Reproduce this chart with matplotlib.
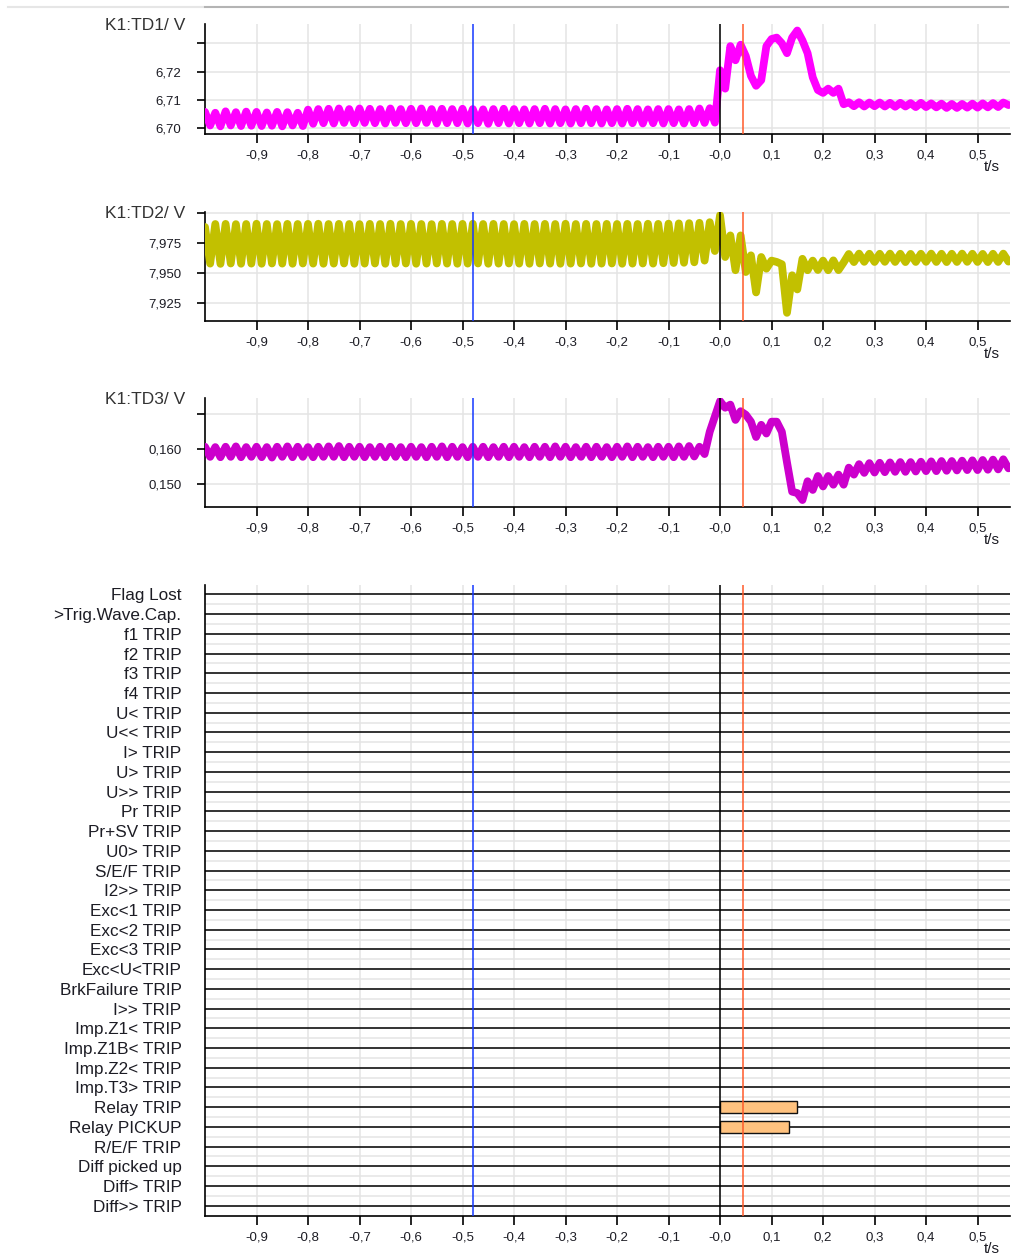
import matplotlib.pyplot as plt
import numpy as np
from matplotlib.lines import Line2D

plt.rcParams['font.family'] = ['Liberation Sans', 'DejaVu Sans']

# Recorder samples, 10 ms apart, starting at -1.00 s
t_start = -1.0
t_step = 0.01

td1 = [
    6.7058, 6.7010, 6.7055, 6.7007, 6.7060, 6.7010, 6.7057, 6.7008, 6.7059, 6.7009,
    6.7058, 6.7008, 6.7056, 6.7009, 6.7058, 6.7007, 6.7057, 6.7010, 6.7055, 6.7008,
    6.7066, 6.7016, 6.7068, 6.7018, 6.7069, 6.7017, 6.7070, 6.7019, 6.7068, 6.7018,
    6.7070, 6.7019, 6.7069, 6.7018, 6.7068, 6.7017, 6.7070, 6.7019, 6.7068, 6.7018,
    6.7069, 6.7018, 6.7070, 6.7019, 6.7068, 6.7017, 6.7069, 6.7018, 6.7068, 6.7018,
    6.7069, 6.7017, 6.7068, 6.7018, 6.7067, 6.7016, 6.7068, 6.7018, 6.7069, 6.7017,
    6.7068, 6.7018, 6.7067, 6.7017, 6.7068, 6.7018, 6.7069, 6.7017, 6.7068, 6.7018,
    6.7067, 6.7017, 6.7068, 6.7018, 6.7069, 6.7018, 6.7068, 6.7017, 6.7067, 6.7018,
    6.7068, 6.7017, 6.7069, 6.7018, 6.7068, 6.7017, 6.7067, 6.7018, 6.7068, 6.7017,
    6.7068, 6.7018, 6.7067, 6.7017, 6.7068, 6.7018, 6.7070, 6.7019, 6.7071, 6.7020,
    6.7205, 6.7140, 6.7290, 6.7240, 6.7295, 6.7255, 6.7185, 6.7150, 6.7170, 6.7290,
    6.7315, 6.7320, 6.7300, 6.7265, 6.7320, 6.7345, 6.7310, 6.7265, 6.7180, 6.7135,
    6.7125, 6.7140, 6.7125, 6.7140, 6.7085, 6.7092, 6.7078, 6.7092, 6.7077, 6.7091,
    6.7078, 6.7091, 6.7077, 6.7090, 6.7076, 6.7090, 6.7077, 6.7089, 6.7075, 6.7090,
    6.7075, 6.7088, 6.7074, 6.7087, 6.7072, 6.7086, 6.7072, 6.7086, 6.7073, 6.7087,
    6.7073, 6.7088, 6.7074, 6.7089, 6.7075, 6.7091, 6.7082,
]

td2 = [
    7.9880, 7.9575, 7.9905, 7.9573, 7.9906, 7.9576, 7.9904, 7.9574, 7.9905, 7.9575,
    7.9907, 7.9574, 7.9905, 7.9576, 7.9904, 7.9575, 7.9906, 7.9574, 7.9905, 7.9576,
    7.9906, 7.9575, 7.9907, 7.9574, 7.9905, 7.9575, 7.9906, 7.9576, 7.9905, 7.9574,
    7.9904, 7.9575, 7.9906, 7.9576, 7.9905, 7.9574, 7.9907, 7.9575, 7.9905, 7.9576,
    7.9906, 7.9574, 7.9905, 7.9575, 7.9904, 7.9576, 7.9906, 7.9575, 7.9905, 7.9574,
    7.9906, 7.9575, 7.9907, 7.9576, 7.9905, 7.9574, 7.9906, 7.9575, 7.9905, 7.9576,
    7.9904, 7.9575, 7.9906, 7.9574, 7.9905, 7.9576, 7.9906, 7.9575, 7.9905, 7.9574,
    7.9907, 7.9575, 7.9905, 7.9576, 7.9906, 7.9574, 7.9905, 7.9575, 7.9906, 7.9576,
    7.9905, 7.9574, 7.9906, 7.9575, 7.9905, 7.9576, 7.9907, 7.9575, 7.9906, 7.9578,
    7.9908, 7.9580, 7.9910, 7.9582, 7.9912, 7.9586, 7.9915, 7.9600, 7.9920, 7.9680,
    7.9978, 7.9630, 7.9810, 7.9520, 7.9810, 7.9505, 7.9644, 7.9335, 7.9630, 7.9533,
    7.9600, 7.9589, 7.9570, 7.9165, 7.9478, 7.9360, 7.9615, 7.9520, 7.9600, 7.9522,
    7.9600, 7.9520, 7.9602, 7.9521, 7.9585, 7.9655, 7.9588, 7.9658, 7.9590, 7.9657,
    7.9589, 7.9657, 7.9590, 7.9658, 7.9589, 7.9657, 7.9588, 7.9656, 7.9589, 7.9657,
    7.9590, 7.9658, 7.9589, 7.9657, 7.9588, 7.9657, 7.9589, 7.9658, 7.9590, 7.9657,
    7.9589, 7.9656, 7.9588, 7.9657, 7.9589, 7.9658, 7.9592,
]

td3 = [
    0.1607, 0.1578, 0.1606, 0.1577, 0.1607, 0.1578, 0.1608, 0.1577, 0.1606, 0.1578,
    0.1607, 0.1577, 0.1606, 0.1576, 0.1607, 0.1578, 0.1608, 0.1577, 0.1607, 0.1578,
    0.1606, 0.1577, 0.1607, 0.1578, 0.1608, 0.1578, 0.1609, 0.1577, 0.1607, 0.1578,
    0.1607, 0.1577, 0.1606, 0.1578, 0.1607, 0.1577, 0.1607, 0.1578, 0.1606, 0.1577,
    0.1607, 0.1578, 0.1606, 0.1577, 0.1607, 0.1578, 0.1608, 0.1577, 0.1607, 0.1578,
    0.1606, 0.1577, 0.1607, 0.1578, 0.1607, 0.1577, 0.1606, 0.1578, 0.1607, 0.1577,
    0.1607, 0.1578, 0.1606, 0.1577, 0.1607, 0.1578, 0.1607, 0.1577, 0.1608, 0.1578,
    0.1607, 0.1577, 0.1606, 0.1578, 0.1607, 0.1577, 0.1607, 0.1578, 0.1606, 0.1577,
    0.1607, 0.1578, 0.1608, 0.1577, 0.1607, 0.1578, 0.1606, 0.1577, 0.1607, 0.1578,
    0.1607, 0.1577, 0.1608, 0.1578, 0.1609, 0.1579, 0.1607, 0.1586, 0.1650, 0.1694,
    0.1738, 0.1719, 0.1728, 0.1684, 0.1709, 0.1699, 0.1679, 0.1635, 0.1670, 0.1645,
    0.1679, 0.1679, 0.1650, 0.1562, 0.1478, 0.1474, 0.1454, 0.1508, 0.1483, 0.1523,
    0.1493, 0.1523, 0.1498, 0.1527, 0.1498, 0.1547, 0.1527, 0.1557, 0.1532, 0.1560,
    0.1533, 0.1561, 0.1534, 0.1562, 0.1535, 0.1563, 0.1535, 0.1563, 0.1536, 0.1564,
    0.1537, 0.1565, 0.1537, 0.1566, 0.1538, 0.1566, 0.1539, 0.1567, 0.1540, 0.1568,
    0.1540, 0.1569, 0.1541, 0.1570, 0.1542, 0.1571, 0.1545,
]

channel_names = [
    "Flag Lost", ">Trig.Wave.Cap.", "f1 TRIP", "f2 TRIP", "f3 TRIP", "f4 TRIP",
    "U< TRIP", "U<< TRIP", "I> TRIP", "U> TRIP", "U>> TRIP", "Pr TRIP",
    "Pr+SV TRIP", "U0> TRIP", "S/E/F TRIP", "I2>> TRIP", "Exc<1 TRIP",
    "Exc<2 TRIP", "Exc<3 TRIP", "Exc<U<TRIP", "BrkFailure TRIP", "I>> TRIP",
    "Imp.Z1< TRIP", "Imp.Z1B< TRIP", "Imp.Z2< TRIP", "Imp.T3> TRIP",
    "Relay TRIP", "Relay PICKUP", "R/E/F TRIP", "Diff picked up",
    "Diff> TRIP", "Diff>> TRIP",
]
active_channels = ["Relay TRIP", "Relay PICKUP"]
active_on = [0.0, 0.0]
active_off = [0.149, 0.133]

cursor_a = -0.48
trigger_t = 0.0
cursor_b = 0.045

x_ticks = [-0.9, -0.8, -0.7, -0.6, -0.5, -0.4, -0.3, -0.2, -0.1, 0.0, 0.1, 0.2, 0.3, 0.4, 0.5]
x_labels = ["-0,9", "-0,8", "-0,7", "-0,6", "-0,5", "-0,4", "-0,3", "-0,2", "-0,1",
            "-0,0", "0,1", "0,2", "0,3", "0,4", "0,5"]

t = t_start + t_step * np.arange(len(td1))

W, H = 1013, 1257
fig = plt.figure(figsize=(W / 100, H / 100), dpi=100)

grid_col = '#e4e4e4'
text_col = '#1c1c24'


def px_box(top, bottom, left=205, right=1010):
    return [left / W, 1 - bottom / H, (right - left) / W, (bottom - top) / H]


def style_axes(ax):
    ax.set_xlim(-1.0, 0.563)
    for s in ['top', 'right']:
        ax.spines[s].set_visible(False)
    for s in ['left', 'bottom']:
        ax.spines[s].set_linewidth(1.2)
    ax.set_xticks(x_ticks)
    ax.set_xticklabels(x_labels, fontsize=9.5, color=text_col)
    ax.tick_params(axis='x', direction='out', length=6.5, width=1.2, pad=5)
    ax.grid(axis='x', color=grid_col, linewidth=1.1, zorder=0)
    ax.set_axisbelow(True)
    for xc, col in [(cursor_a, '#1538ff'), (trigger_t, '#000000'), (cursor_b, '#ff5a2a')]:
        ax.axvline(xc, color=col, linewidth=1.1, zorder=5)
    ax.annotate('t/s', xy=(1, 0), xycoords='axes fraction', xytext=(-18, -33),
                textcoords='offset pixels', ha='center', va='center',
                fontsize=11, color=text_col)


analog = [
    (td1, '#ff00ff', (24, 134), (6.698, 6.7368), [6.70, 6.71, 6.72, 6.73],
     ["6,70", "6,71", "6,72", ""], "K1:TD1/ V"),
    (td2, '#c2c000', (212, 321), (7.9097, 8.0005), [7.925, 7.95, 7.975, 8.0],
     ["7,925", "7,950", "7,975", ""], "K1:TD2/ V"),
    (td3, '#cc00cc', (398, 507), (0.1434, 0.1747), [0.15, 0.16, 0.17],
     ["0,150", "0,160", ""], "K1:TD3/ V"),
]

for vals, col, (top, bottom), ylim, yt, ylab, title in analog:
    ax = fig.add_axes(px_box(top, bottom))
    style_axes(ax)
    ax.plot(t, vals, color=col, linewidth=5.6, solid_joinstyle='round',
            solid_capstyle='round', zorder=3, clip_on=True)
    ax.set_ylim(*ylim)
    ax.set_yticks(yt)
    ax.set_yticklabels(ylab, fontsize=9.5, color=text_col)
    ax.tick_params(axis='y', direction='out', length=6, width=1.2, pad=11)
    ax.grid(axis='y', color=grid_col, linewidth=1.1, zorder=0)
    fig.text(185 / W, 1 - (top + 1) / H, title, ha='right', va='center',
             fontsize=12.5, color='#333333')

# binary channels
axd = fig.add_axes(px_box(585, 1216))
style_axes(axd)
n_ch = len(channel_names)
rows = -np.arange(n_ch)
axd.set_ylim(-(n_ch - 1) - 0.52, 0.48)
axd.hlines(rows[:-1] - 0.5, -1.0, 0.563, color=grid_col, linewidth=1.1, zorder=0)
axd.hlines(rows, -1.0, 0.563, color='#111111', linewidth=1.2, zorder=2)
for name, x0, x1 in zip(active_channels, active_on, active_off):
    r = -channel_names.index(name)
    axd.barh(r, x1 - x0, left=x0, height=0.58, color='#ffc27f',
             edgecolor='#111111', linewidth=1.0, zorder=4)
axd.set_yticks(rows)
axd.set_yticklabels(channel_names, fontsize=12.3, color=text_col)
axd.tick_params(axis='y', length=0, pad=17)

# thin rule along the top edge
fig.add_artist(Line2D([8 / W, 203 / W], [1 - 7 / H, 1 - 7 / H], color='#e6e6e6', linewidth=1.5))
fig.add_artist(Line2D([205 / W, 1008 / W], [1 - 7 / H, 1 - 7 / H], color='#b4b4b4', linewidth=1.5))

fig.savefig('out.png', dpi=100)
